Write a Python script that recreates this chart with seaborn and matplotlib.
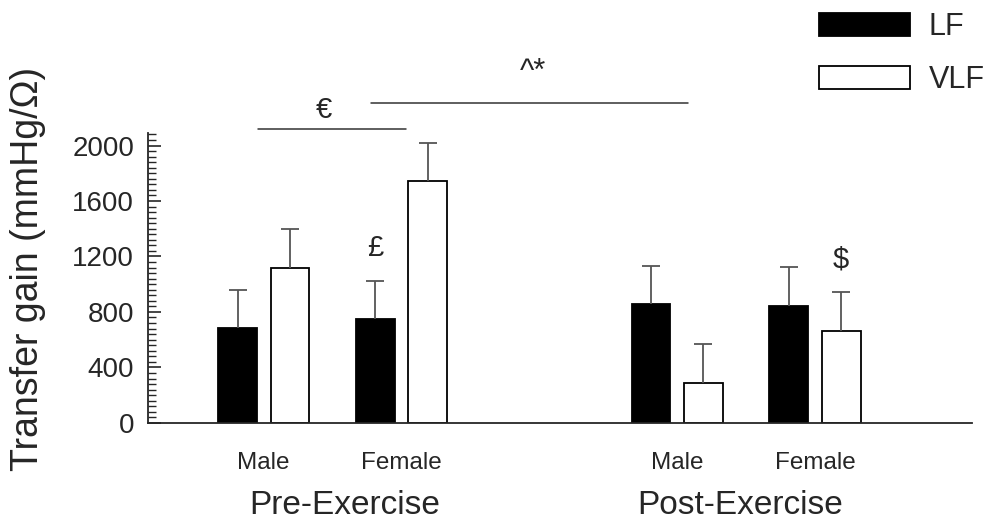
import pandas as pd
import numpy as np
import matplotlib
matplotlib.use("Agg")
import matplotlib.pyplot as plt
from matplotlib.ticker import MultipleLocator
import seaborn as sns

# Data
groups = ["Pre Male", "Pre Female", "Post Male", "Post Female"]
lf_gain = [683, 748, 856, 842]
vlf_gain = [1115, 1741, 288, 662]
lf_err = [274, 274, 274, 280]
vlf_err = [281, 281, 280, 280]
tick_labels = ["Male", "Female", "", "Male", "Female"]
order = ["Pre Male", "Pre Female", " ", "Post Male", "Post Female"]

df = pd.DataFrame({
    "group": groups * 2,
    "band": ["LF"] * 4 + ["VLF"] * 4,
    "gain": lf_gain + vlf_gain,
})
errs = {"LF": lf_err, "VLF": vlf_err}

sns.set_style("ticks")
plt.rcParams["font.family"] = ["Liberation Sans", "DejaVu Sans"]

fig = plt.figure(figsize=(9.93, 5.24), dpi=100)
ax = fig.add_axes([0.149, 0.193, 0.83, 0.553])

sns.barplot(data=df, x="group", y="gain", hue="band", order=order,
            hue_order=["LF", "VLF"], palette={"LF": "black", "VLF": "white"},
            edgecolor="black", linewidth=1.3, errorbar=None,
            width=0.76, gap=0.26, ax=ax)

# upper-only error bars
for cont, band in zip(ax.containers, ["LF", "VLF"]):
    for bar, e in zip(cont, errs[band]):
        xc = bar.get_x() + bar.get_width() / 2
        _, caps, _ = ax.errorbar(xc, bar.get_height(), yerr=[[0], [e]],
                                 fmt="none", ecolor="#555555", elinewidth=1.3,
                                 capsize=6.8, capthick=1.3, zorder=1)
        caps[0].remove()  # drop the cap at the bar top

ax.set_xlim(-0.84, 5.14)
ax.set_ylim(0, 2090)
ax.yaxis.set_major_locator(MultipleLocator(400))
ax.yaxis.set_minor_locator(MultipleLocator(40))
ax.tick_params(axis="y", which="major", direction="in", length=9, width=1.2,
               labelsize=20, pad=10)
ax.tick_params(axis="y", which="minor", direction="in", length=5.5, width=1.0)
ax.set_xticks(range(5))
ax.set_xticklabels(tick_labels)
ax.tick_params(axis="x", length=0, labelsize=17.5, pad=21)
for side in ["top", "right"]:
    ax.spines[side].set_visible(False)
for side in ["left", "bottom"]:
    ax.spines[side].set_linewidth(1.3)
ax.set_xlabel("")
ax.set_ylabel("Transfer gain (mmHg/Ω)", fontsize=27)
ax.yaxis.set_label_coords(-0.124, 0.53)

# period labels
ax.text(0.59, -0.285, "Pre-Exercise", transform=ax.get_xaxis_transform(),
        ha="center", va="center", fontsize=24)
ax.text(3.46, -0.285, "Post-Exercise", transform=ax.get_xaxis_transform(),
        ha="center", va="center", fontsize=24)

# significance marks
ax.plot([-0.04, 1.03], [2123, 2123], color="#333333", lw=1.1, clip_on=False)
ax.text(0.44, 2260, "€", ha="center", va="center", fontsize=21, clip_on=False)
ax.plot([0.78, 3.08], [2310, 2310], color="#333333", lw=1.1, clip_on=False)
ax.text(1.95, 2530, "^*", ha="center", va="center", fontsize=22, clip_on=False)
ax.text(0.81, 1264, "£", ha="center", va="center", fontsize=21)
ax.text(4.19, 1177, "$", ha="center", va="center", fontsize=21)

sns.move_legend(ax, "upper right", bbox_to_anchor=(1.01, 1.012),
                bbox_transform=fig.transFigure, title=None, frameon=False,
                fontsize=22, handlelength=3.0, handleheight=0.8,
                labelspacing=0.75, handletextpad=0.6, borderaxespad=0.2)

fig.savefig("out.png", dpi=100)
